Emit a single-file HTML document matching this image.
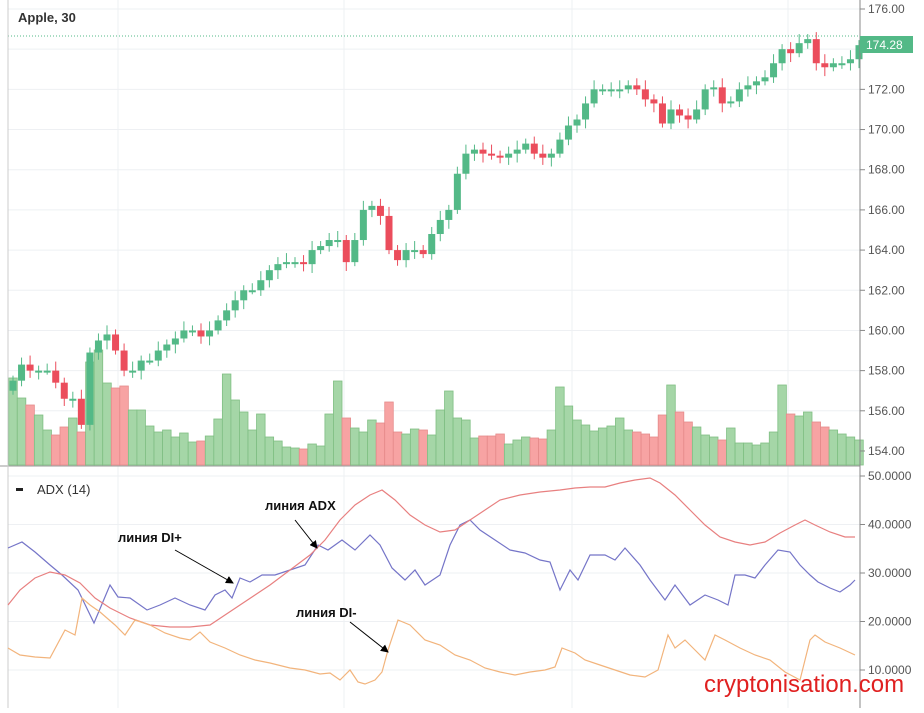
<!DOCTYPE html><html><head><meta charset="utf-8"><style>
body{margin:0;background:#fff;width:924px;height:708px;overflow:hidden;font-family:"Liberation Sans","DejaVu Sans",sans-serif}
</style></head><body>
<svg id="s" width="924" height="708" xmlns="http://www.w3.org/2000/svg" font-family="Liberation Sans, sans-serif"></svg>
<script>
const s=document.getElementById('s');let h='';
const Y=p=>9+(176-p)*20.09, A=v=>476+(50-v)*4.85;
for(let p=154;p<=176;p+=2)h+=`<line x1="8" x2="860" y1="${Y(p)}" y2="${Y(p)}" stroke="#eef0f3"/>`;
for(let v=10;v<=50;v+=10)h+=`<line x1="8" x2="860" y1="${A(v)}" y2="${A(v)}" stroke="#eef0f3"/>`;
[118,344,572,788].forEach(x=>h+=`<line x1="${x}" x2="${x}" y1="0" y2="708" stroke="#eef0f3"/>`);
const C=[157.5,158.3,158,158,158,157.4,156.6,156.6,155.3,158.9,159.5,159.8,159,158,158,158.5,158.5,159,159.3,159.6,160,160,159.7,160,160.5,161,161.5,162,162,162.5,163,163.3,163.4,163.4,163.3,164,164.2,164.5,164.5,163.4,164.5,166,166.2,165.7,164,163.5,164,164,163.8,164.8,165.5,166,167.8,168.8,169,168.8,168.7,168.6,168.8,169,169.3,168.8,168.6,168.8,169.5,170.2,170.5,171.3,172,172,172,172,172.2,172,171.5,171.3,170.3,171,170.7,170.5,171,172,172.1,171.3,171.4,172,172.2,172.4,172.6,173.3,174,173.8,174.3,174.5,173.3,173.1,173.3,173.3,173.5,174.2];
const V=[378,398,405,415,430,435,427,418,432,362,350,383,388,386,410,410,426,432,430,437,433,442,441,436,419,374,400,412,430,414,437,441,447,448,449,444,446,414,381,418,428,432,420,423,402,432,434,429,430,435,410,391,418,420,438,436,436,434,444,440,437,438,439,430,387,406,420,425,431,428,426,418,430,432,434,437,415,385,412,422,427,435,437,440,428,443,443,445,443,432,385,414,416,412,422,427,430,434,437];
const n=C.length,dx=(859-13)/(n-1);
for(let i=0;i<n;i++){const x=13+i*dx,o=i?C[i-1]:157,c=C[i],up=c>=o;
 const vc=up?'#a5d6a7':'#f7a3a3',vs=up?'#7fbf83':'#e58a8a';const vt=V[i]||440;
 h+=`<rect x="${x-dx/2}" y="${vt}" width="${dx}" height="${465-vt}" fill="${vc}" stroke="${vs}" stroke-width="0.8"/>`;}
for(let i=0;i<n;i++){const x=13+i*dx,o=i?C[i-1]:157,c=C[i],up=c>=o,col=up?'#53b987':'#eb4d5c';
 const hi=Math.max(o,c)+0.25+(i%3)*0.1,lo=Math.min(o,c)-0.2-(i%4)*0.08;
 h+=`<line x1="${x}" x2="${x}" y1="${Y(hi)}" y2="${Y(lo)}" stroke="${col}"/><rect x="${x-3.5}" y="${Y(Math.max(o,c))}" width="7" height="${Math.max(2,Math.abs(o-c)*20.09)}" fill="${col}"/>`;}
h+=`<line x1="8" x2="860" y1="36" y2="36" stroke="#53b987" stroke-dasharray="1,2"/>`;
h+=`<line x1="0" x2="860" y1="466" y2="466" stroke="#999"/><line x1="860" x2="860" y1="0" y2="708" stroke="#888"/><line x1="8" x2="8" y1="0" y2="708" stroke="#ccc"/>`;
for(let p=154;p<=176;p+=2){h+=`<line x1="860" x2="865" y1="${Y(p)}" y2="${Y(p)}" stroke="#888"/><text x="868" y="${Y(p)+4}" font-size="12" fill="#555">${p.toFixed(2)}</text>`;}
for(let v=10;v<=50;v+=10){h+=`<line x1="860" x2="865" y1="${A(v)}" y2="${A(v)}" stroke="#888"/><text x="868" y="${A(v)+4}" font-size="12" fill="#555">${v.toFixed(4)}</text>`;}
h+=`<rect x="860" y="36" width="53" height="17" fill="#53b987"/><text x="866" y="49" font-size="12" fill="#fff">174.28</text>`;
h+=`<text x="18" y="22" font-size="13" font-weight="bold" fill="#333">Apple, 30</text>`;
h+=`<rect x="16" y="488" width="7" height="3" fill="#222"/><text x="37" y="494" font-size="13" fill="#333">ADX (14)</text>`;
const L=(pts,c)=>h+=`<polyline fill="none" stroke="${c}" stroke-width="1.2" points="${pts}"/>`;
L("8,548 22,542 35,552 50,565 62,575 78,590 94,623 110,585 118,597 130,598 147,610 160,605 175,598 190,605 205,610 215,595 225,590 232,598 240,578 250,582 262,575 275,575 290,570 305,565 318,545 328,550 342,540 355,550 370,535 380,545 392,568 405,580 415,570 425,585 440,575 450,545 460,525 470,520 480,530 495,540 510,550 525,553 540,560 550,562 560,590 570,570 578,580 590,555 605,555 615,560 625,548 640,565 650,580 665,600 675,585 690,605 705,595 718,600 728,605 735,575 745,575 755,578 765,565 778,550 790,552 800,565 810,575 818,582 830,588 840,592 850,585 855,580","#7575c8");
L("8,605 20,590 35,578 50,572 65,575 80,583 95,598 110,608 130,618 150,625 170,627 190,627 210,625 225,615 240,605 255,595 270,585 290,570 310,555 325,540 340,520 355,505 370,495 382,490 395,500 410,515 425,525 440,532 455,530 470,520 485,510 500,500 520,495 540,492 560,490 575,488 590,487 605,487 620,483 635,480 650,478 660,483 675,495 690,510 705,525 720,537 735,542 750,545 765,542 780,533 795,525 805,520 815,525 830,532 845,537 855,537","#e88080");
L("8,648 20,655 35,657 50,658 65,630 75,635 82,598 90,605 100,612 115,625 125,635 135,620 150,625 165,633 180,638 190,640 200,632 210,642 225,648 240,655 255,660 270,663 290,668 305,670 320,674 330,673 340,680 350,670 358,682 365,684 375,680 382,672 388,650 398,620 410,625 425,640 440,645 455,655 470,660 485,668 500,672 515,675 530,672 545,670 555,667 562,648 575,653 585,660 600,665 615,670 630,675 645,677 658,670 668,635 675,648 685,640 695,650 705,660 715,635 725,640 740,648 755,655 770,660 785,672 800,680 810,640 815,635 825,642 840,648 855,655","#f2b47c");
h+=`<defs><marker id="m" markerWidth="8" markerHeight="8" refX="7" refY="4" orient="auto"><path d="M0,0 L8,4 L0,8 z" fill="#000"/></marker></defs>`;
const T=(x,y,t,x1,y1,x2,y2)=>h+=`<text x="${x}" y="${y}" font-size="13" font-weight="bold" fill="#111">${t}</text><line x1="${x1}" y1="${y1}" x2="${x2}" y2="${y2}" stroke="#000" marker-end="url(#m)"/>`;
T(265,510,"линия ADX",295,520,317,548);
T(118,542,"линия DI+",175,550,233,583);
T(296,617,"линия DI-",350,622,388,652);
h+=`<text x="704" y="692" font-size="24" fill="#e02020">cryptonisation.com</text>`;
s.innerHTML=h;
</script></body></html>
